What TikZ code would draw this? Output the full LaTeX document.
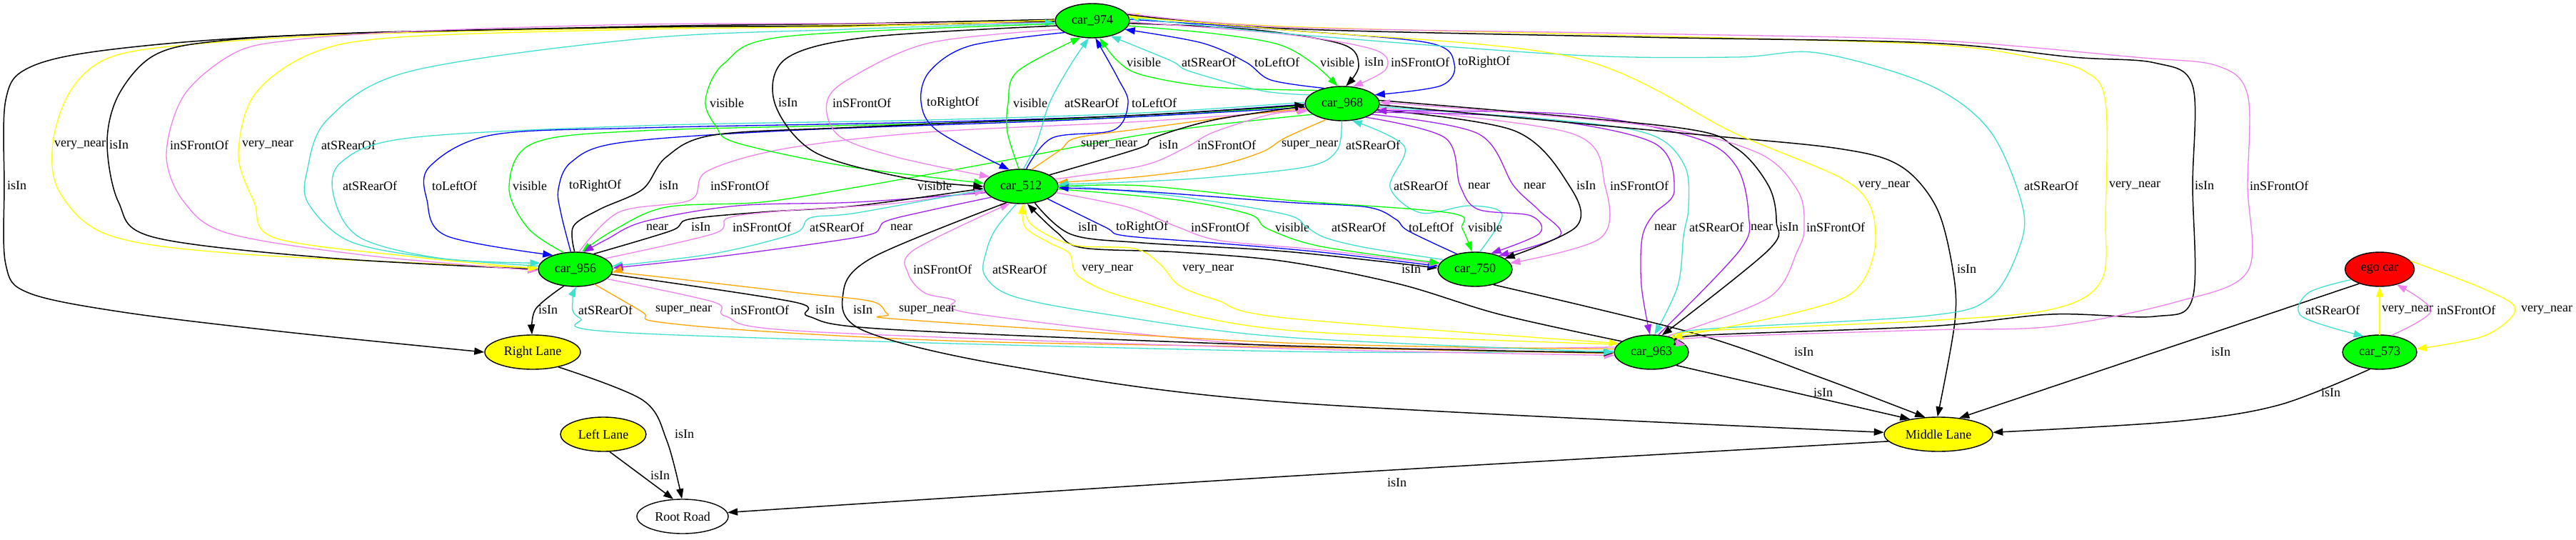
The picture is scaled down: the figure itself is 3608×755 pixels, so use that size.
\documentclass[tikz,border=0pt]{standalone}
\usepackage{fontspec}
\setmainfont{Liberation Serif}
\usetikzlibrary{shapes.geometric,arrows.meta}
\definecolor{cG}{HTML}{00FF00}
\definecolor{cY}{HTML}{FFFF00}
\definecolor{cR}{HTML}{FF0000}
\definecolor{cT}{HTML}{40E0D0}
\definecolor{cV}{HTML}{EE82EE}
\definecolor{cP}{HTML}{A020F0}
\definecolor{cO}{HTML}{FFA500}
\definecolor{cB}{HTML}{0000FF}
\tikzset{
  txt/.style={font=\fontsize{18}{20}\selectfont},
  car/.style={txt,ellipse,draw=black,line width=1.4pt,fill=cG,minimum width=104pt,minimum height=48pt,inner sep=0pt},
  lane/.style={car,fill=cY},
  lab/.style={txt,anchor=west,inner sep=0pt},
  e/.style={line width=1.3pt,-{Triangle[length=14pt,width=10pt]}},
  blk/.style={black,line width=1.5pt}
}
\newcommand\edg[5]{\draw[e,#1] plot[smooth,tension=.55] coordinates {#2};\node[lab] (#3) at (#4) {#5};}
\begin{document}
\begin{tikzpicture}[x=1pt,y=-1pt]
\useasboundingbox (0,0) rectangle (3608,755);
\fill[white] (0,0) rectangle (3608,755);
% nodes
\node[car] (A) at (1530,29) {car\_974};
\node[car] (B) at (1880,145) {car\_968};
\node[car] (C) at (1430,261) {car\_512};
\node[car] (D) at (806,377) {car\_956};
\node[car] (E) at (2066,377) {car\_750};
\node[car,fill=cR,minimum width=97pt] (F) at (3333,377) {ego car};
\node[car] (G) at (2313,493) {car\_963};
\node[car] (H) at (3333,493) {car\_573};
\node[lane,minimum width=134pt] (RL) at (746,493) {Right Lane};
\node[lane,minimum width=120pt] (LL) at (845,608) {Left Lane};
\node[lane,minimum width=152pt] (ML) at (2715,608) {Middle Lane};
\node[car,fill=white,minimum width=128pt] (RR) at (956,723) {Root Road};
% edges
\edg{blk}{(A.178) (1200,33) (900,37) (402,50) (150,70) (40,95) (8,140) (6,260) (8,370) (40,410) (172,437) (402,465) (RL.180)}{L1}{10,260}{isIn}
\edg{cY}{(A.180) (1200,35) (900,39) (500,48) (270,62) (155,80) (100,125) (74,200) (84,270) (155,330) (344,356) (D.178)}{L2}{76,203}{very\_near}
\edg{blk}{(A.181) (1200,36) (900,38) (500,46) (300,58) (215,78) (166,133) (150,200) (166,283) (215,332) (459,361) (D.180)}{L3}{153,203}{isIn}
\edg{cV}{(A.183) (1200,33) (900,34) (574,44) (402,57) (327,75) (258,133) (233,217) (258,283) (321,327) (517,358) (D.182)}{L4}{238,203}{inSFrontOf}
\edg{cY}{(A.179) (1200,37) (900,41) (560,52) (436,75) (356,133) (334,217) (356,283) (385,333) (574,359) (D.179)}{L5}{339,203}{very\_near}
\edg{cT}{(D.175) (600,360) (488,337) (432,285) (430,240) (459,167) (574,100) (900,54) (1187,41) (A.183)}{L6}{450,203}{atSRearOf}
\edg{cT}{(B.178) (1600,158) (1300,168) (900,176) (574,193) (478,227) (468,277) (505,333) (620,362) (D.170)}{L7}{480,260}{atSRearOf}
\edg{cB}{(B.181) (1600,161) (1300,171) (900,179) (689,189) (602,233) (598,280) (625,330) (D.148)}{L8}{605,260}{toLeftOf}
\edg{cG}{(D.125) (740,320) (713,262) (746,201) (900,183) (1300,173) (1600,163) (B.183)}{L9}{718,260}{visible}
\edg{cB}{(D.105) (786,300) (782,265) (800,227) (867,200) (1100,183) (1500,168) (B.186)}{L10}{797,260}{toRightOf}
\edg{blk}{(D.93) (803,317) (840,293) (900,265) (933,220) (1000,189) (1200,178) (1600,161) (B.182)}{L11}{923,260}{isIn}
\edg{cV}{(D.78) (867,297) (967,280) (990,240) (1100,208) (1300,185) (1600,170) (B.190)}{L12}{995,260}{inSFrontOf}
\edg{cG}{(B.200) (1700,175) (1580,192) (1400,226) (1200,262) (1067,283) (933,290) (860,322) (D.70)}{L13}{1285,260}{visible}
\edg{cG}{(A.185) (1101,51) (1015,88) (988,140) (1003,177) (1032,200) (1187,233) (C.175)}{L14}{994,144}{visible}
\edg{blk}{(A.188) (1216,52) (1101,82) (1085,144) (1141,213) (1273,250) (C.180)}{L15}{1090,144}{isIn}
\edg{cV}{(A.195) (1302,60) (1190,110) (1158,144) (1175,190) (1256,220) (C.163)}{L16}{1166,144}{inSFrontOf}
\edg{cB}{(A.203) (1359,64) (1302,100) (1290,143) (1313,183) (C.125)}{L17}{1298,144}{toRightOf}
\edg{cG}{(C.97) (1411,185) (1412,144) (1425,100) (A.235)}{L18}{1419,144}{visible}
\edg{cT}{(C.82) (1452,200) (1470,144) (1500,90) (A.258)}{L19}{1491,144}{atSRearOf}
\edg{cB}{(C.73) (1474,193) (1560,182) (1580,144) (1566,110) (A.280)}{L20}{1585,144}{toLeftOf}
\edg{cG}{(B.152) (1700,122) (1600,105) (1565,85) (A.293)}{L21}{1578,87}{visible}
\edg{cT}{(B.165) (1767,127) (1667,100) (1640,85) (A.320)}{L22}{1655,87}{atSRearOf}
\edg{cB}{(B.140) (1780,112) (1745,87) (1683,60) (A.345)}{L23}{1757,87}{toLeftOf}
\edg{cG}{(A.352) (1700,47) (1790,62) (1838,88) (B.105)}{L24}{1849,87}{visible}
\edg{blk}{(A.356) (1750,41) (1880,62) (1903,92) (B.78)}{L25}{1911,87}{isIn}
\edg{cV}{(A.358) (1800,48) (1926,70) (1941,97) (B.58)}{L26}{1948,87}{inSFrontOf}
\edg{cB}{(A.2) (1800,42) (2001,60) (2037,90) (2018,120) (B.15)}{L27}{2042,87}{toRightOf}
\edg{cO}{(C.58) (1485,210) (1508,193) (1600,180) (1750,160) (B.188)}{L28}{1514,203}{super\_near}
\edg{blk}{(C.22) (1597,207) (1615,193) (1700,168) (B.184)}{L29}{1623,203}{isIn}
\edg{cV}{(C.12) (1600,232) (1660,207) (1700,185) (1780,160) (B.192)}{L30}{1677,203}{inSFrontOf}
\edg{cO}{(B.225) (1800,193) (1767,213) (1700,233) (1600,247) (C.6)}{L31}{1795,203}{super\_near}
\edg{cT}{(B.268) (1873,210) (1833,233) (1700,248) (1600,254) (C.3)}{L32}{1885,203}{atSRearOf}
\edg{cT}{(E.75) (2104,300) (2058,288) (1990,298) (1947,262) (1967,205) (B.300)}{L33}{1952,260}{atSRearOf}
\edg{cP}{(B.330) (2024,193) (2045,260) (2070,293) (2144,302) (2156,327) (E.45)}{L34}{2056,260}{near}
\edg{cP}{(B.340) (2070,187) (2120,260) (2156,295) (2185,330) (E.30)}{L35}{2134,260}{near}
\edg{blk}{(B.350) (2121,183) (2198,260) (2208,317) (E.20)}{L36}{2208,260}{isIn}
\edg{cV}{(B.353) (2202,187) (2248,260) (2242,333) (E.10)}{L37}{2255,260}{inSFrontOf}
\edg{cP}{(C.190) (1200,283) (1033,288) (903,310) (850,335) (D.65)}{L38}{905,318}{near}
\edg{blk}{(D.40) (940,323) (965,307) (1067,297) (1200,288) (C.183)}{L39}{968,318}{isIn}
\edg{cV}{(D.20) (1000,327) (1020,305) (1100,295) (1250,285) (C.187)}{L40}{1026,318}{inSFrontOf}
\edg{cT}{(C.185) (1200,298) (1135,305) (1112,327) (1000,355) (D.5)}{L41}{1134,318}{atSRearOf}
\edg{cP}{(C.200) (1300,295) (1240,310) (1223,327) (1150,340) (1000,360) (D.2)}{L42}{1247,318}{near}
\edg{blk}{(C.310) (1500,328) (1600,340) (1800,352) (E.178)}{L43}{1510,318}{isIn}
\edg{cB}{(C.335) (1548,318) (1575,330) (1700,340) (1850,353) (E.175)}{L44}{1563,318}{toRightOf}
\edg{cV}{(C.350) (1580,290) (1650,318) (1710,337) (1850,350) (E.172)}{L45}{1668,318}{inSFrontOf}
\edg{cG}{(C.356) (1650,280) (1750,300) (1775,320) (1850,345) (E.170)}{L46}{1786,318}{visible}
\edg{cT}{(E.163) (1915,347) (1857,333) (1830,318) (1800,300) (1650,275) (C.2)}{L47}{1865,318}{atSRearOf}
\edg{cB}{(E.140) (1972,323) (1955,307) (1915,290) (1800,283) (1600,268) (C.358)}{L48}{1973,318}{toLeftOf}
\edg{cG}{(C.0) (1600,260) (1800,280) (2030,298) (2048,320) (E.100)}{L49}{2056,318}{visible}
\edg{cP}{(B.345) (2144,165) (2316,200) (2345,267) (2316,300) (2300,333) (2299,400) (G.95)}{L50}{2317,318}{near}
\edg{cT}{(B.355) (2200,170) (2316,190) (2360,233) (2365,290) (2358,330) (2350,400) (G.80)}{L51}{2366,318}{atSRearOf}
\edg{cP}{(G.68) (2437,350) (2449,300) (2432,233) (2374,193) (2202,160) (B.348)}{L52}{2452,318}{near}
\edg{blk}{(B.5) (2345,178) (2431,207) (2477,260) (2488,310) (2477,350) (G.58)}{L53}{2492,318}{isIn}
\edg{cV}{(G.45) (2477,417) (2518,350) (2527,318) (2518,267) (2460,213) (2300,175) (B.2)}{L54}{2530,318}{inSFrontOf}
\edg{blk}{(G.160) (2100,440) (1961,398) (1800,366) (1650,353) (1517,347) (1480,325) (C.290)}{L55}{1963,377}{isIn}
\edg{blk}{(B.358) (2374,188) (2575,208) (2661,232) (2712,290) (2735,377) (2738,450) (ML.93)}{L56}{2741,377}{isIn}
\edg{cV}{(G.172) (1800,485) (1370,440) (1336,420) (1295,410) (1272,383) (1280,350) (C.237)}{L57}{1279,377}{inSFrontOf}
\edg{cY}{(G.167) (1800,462) (1590,420) (1512,388) (1498,355) (1470,340) (1436,318) (C.275)}{L59}{1515,377}{very\_near}
\edg{cY}{(C.282) (1445,315) (1503,343) (1589,348) (1625,370) (1652,400) (1704,420) (1800,445) (G.165)}{L60}{1656,377}{very\_near}
\edg{blk}{(D.235) (750,433) (RL.92)}{L61}{754,434}{isIn}
\edg{cT}{(G.178) (1800,492) (900,467) (812,445) (802,420) (D.272)}{L62}{810,434}{atSRearOf}
\edg{cO}{(D.322) (900,437) (917,450) (1072,464) (1359,478) (1800,486) (G.182)}{L63}{918,434}{super\_near}
\edg{cV}{(D.343) (1000,423) (1017,443) (1130,464) (1800,488) (G.185)}{L64}{1023,434}{inSFrontOf}
\edg{blk}{(D.352) (1113,423) (1133,443) (1244,461) (1800,484) (G.181)}{L65}{1142,434}{isIn}
\edg{blk}{(C.228) (1223,360) (1181,410) (1210,463) (1417,513) (1800,563) (ML.178)}{L66}{1195,434}{isIn}
\edg{cO}{(G.175) (1800,480) (1273,448) (1244,440) (1221,422) (1118,410) (900,385) (D.355)}{L67}{1259,434}{super\_near}
\edg{cT}{(C.255) (1395,320) (1382,350) (1379,385) (1420,415) (1550,440) (1800,472) (G.180)}{L58}{1390,377}{atSRearOf}
\edg{blk}{(E.320) (2374,467) (2546,527) (ML.128)}{L68}{2513,493}{isIn}
\edg{blk}{(G.332) (ML.152)}{L69}{2540,550}{isIn}
\edg{blk}{(ML.188) (1800,667) (RR.5)}{L70}{1943,676}{isIn}
\edg{blk}{(RL.330) (900,560) (934,617) (RR.92)}{L71}{945,608}{isIn}
\edg{blk}{(LL.290) (RR.118)}{L72}{911,666}{isIn}
\edg{blk}{(F.215) (ML.38)}{L73}{3097,493}{isIn}
\edg{blk}{(H.240) (3192,567) (3047,590) (ML.2)}{L74}{3251,550}{isIn}
\edg{cT}{(F.200) (3233,410) (3224,443) (H.135)}{L75}{3229,434}{atSRearOf}
\edg{cY}{(H.90) (F.270)}{L76}{3336,434}{very\_near}
\edg{cV}{(H.55) (3405,435) (F.318)}{L77}{3413,434}{inSFrontOf}
\edg{cY}{(F.15) (3480,405) (3523,433) (3480,470) (H.5)}{L78}{3531,434}{very\_near}
\edg{cT}{(G.20) (2374,462) (2700,442) (2787,417) (2827,350) (2833,290) (2787,183) (2700,118) (2546,74) (2431,80) (2202,77) (1800,47) (A.5)}{L79}{2835,260}{atSRearOf}
\edg{cY}{(G.25) (2374,464) (2700,449) (2874,433) (2943,393) (2949,300) (2949,143) (2920,100) (2845,80) (2700,62) (2300,50) (1800,37) (A.8)}{L80}{2954,260}{very\_near}
\edg{blk}{(A.10) (1800,40) (2300,52) (2700,60) (2903,80) (3018,88) (3071,120) (3071,260) (3071,417) (3018,443) (2874,440) (2700,457) (2374,470) (G.15)}{L81}{3074,260}{isIn}
\edg{cV}{(A.12) (1800,38) (2300,47) (2700,56) (2990,80) (3105,92) (3148,133) (3148,260) (3148,380) (3047,423) (2874,457) (2700,462) (2374,473) (G.12)}{L82}{3151,260}{inSFrontOf}
\edg{cY}{(A.6) (1800,42) (2202,80) (2431,187) (2596,260) (2627,333) (2600,405) (2518,437) (G.35)}{L83}{2603,260}{very\_near}
\end{tikzpicture}
\end{document}
